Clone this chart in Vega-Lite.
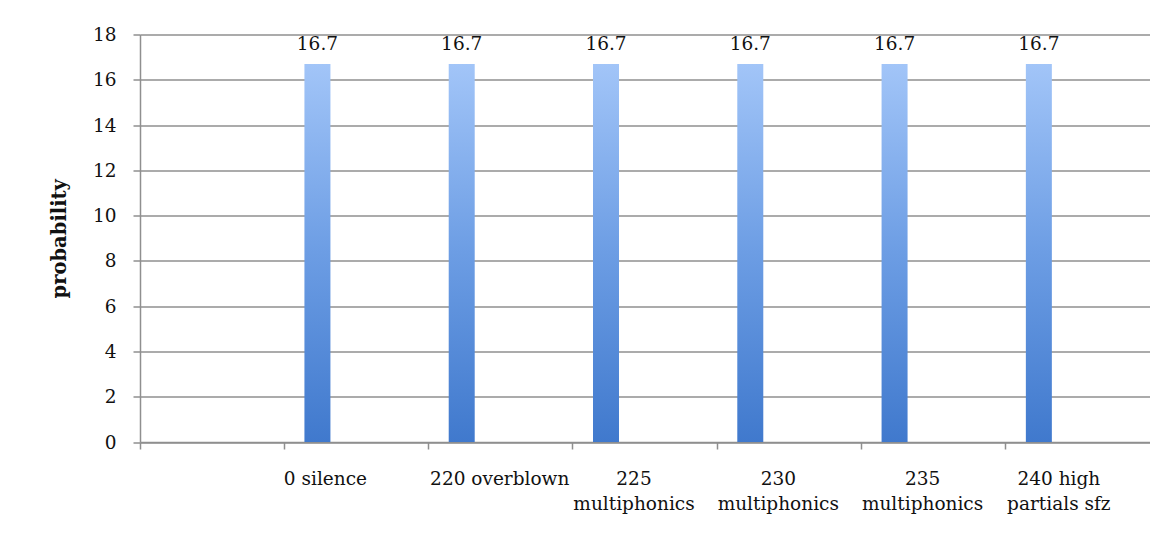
{
  "$schema": "https://vega.github.io/schema/vega-lite/v6.json",
  "width": 1010,
  "height": 407.5,
  "autosize": {"type": "none"},
  "padding": {"left": 140, "top": 34.5, "right": 0, "bottom": 102},
  "background": "white",
  "config": {
    "view": {"stroke": null},
    "font": "DejaVu Serif",
    "axis": {
      "labelFont": "DejaVu Serif",
      "labelFontSize": 18.5,
      "labelColor": "#111111",
      "titleFont": "DejaVu Serif",
      "titleColor": "#111111",
      "domainColor": "#8f8f8f",
      "domainWidth": 1.5,
      "tickColor": "#8f8f8f",
      "tickWidth": 1.5,
      "tickSize": 7,
      "gridColor": "#8f8f8f",
      "gridWidth": 1.5
    }
  },
  "data": {
    "values": [
      {"sound": "0 silence", "probability": 16.7},
      {"sound": "220 overblown", "probability": 16.7},
      {"sound": "225 multiphonics", "probability": 16.7},
      {"sound": "230 multiphonics", "probability": 16.7},
      {"sound": "235 multiphonics", "probability": 16.7},
      {"sound": "240 high partials sfz", "probability": 16.7}
    ]
  },
  "encoding": {
    "x": {
      "field": "sound",
      "type": "nominal",
      "sort": null,
      "scale": {
        "domain": ["", "0 silence", "220 overblown", "225 multiphonics", "230 multiphonics", "235 multiphonics", "240 high partials sfz"],
        "paddingInner": 0,
        "paddingOuter": 0
      },
      "axis": {
        "title": null,
        "grid": false,
        "bandPosition": 0,
        "labelAngle": 0,
        "labelPadding": 20,
        "labelLineHeight": 25,
        "labelOverlap": false,
        "labelLimit": 0,
        "labelExpr": "indexof(datum.value, 'multiphonics') > 0 ? split(datum.value, ' ') : datum.value === '240 high partials sfz' ? ['240 high', 'partials sfz'] : datum.value",
        "labelOffset": {
          "condition": [
            {"test": "datum.value === '0 silence'", "value": -31},
            {"test": "datum.value === '220 overblown'", "value": -1},
            {"test": "datum.value === '240 high partials sfz'", "value": -19}
          ],
          "value": -11
        }
      }
    },
    "y": {
      "field": "probability",
      "type": "quantitative",
      "scale": {"domain": [0, 18]},
      "axis": {
        "tickCount": 9,
        "grid": true,
        "labelPadding": 17,
        "title": "probability",
        "titleFontSize": 19.5,
        "titleFontWeight": "bold",
        "titlePadding": 23
      }
    }
  },
  "layer": [
    {
      "mark": {
        "type": "bar",
        "width": 26,
        "xOffset": -39,
        "color": {
          "x1": 0, "y1": 0, "x2": 0, "y2": 1,
          "gradient": "linear",
          "stops": [
            {"offset": 0, "color": "#a2c5f8"},
            {"offset": 0.5, "color": "#6c9de4"},
            {"offset": 1, "color": "#4079cd"}
          ]
        }
      }
    },
    {
      "mark": {"type": "text", "baseline": "alphabetic", "dy": -14, "xOffset": -39, "fontSize": 18.5, "color": "#111111"},
      "encoding": {
        "text": {"field": "probability", "type": "quantitative", "format": ".1f"}
      }
    }
  ]
}
